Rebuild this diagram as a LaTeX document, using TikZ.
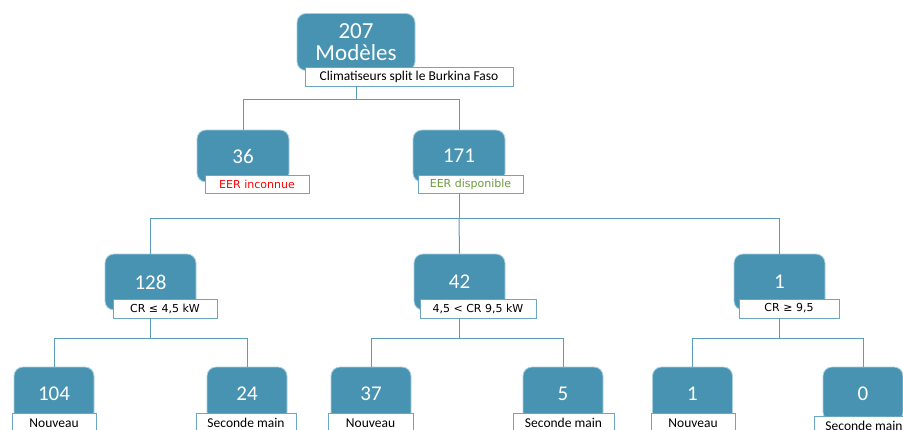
\documentclass[tikz,border=0pt]{standalone}
\usepackage{fontspec}
\setmainfont{Carlito}
\newfontfamily\dvs{DejaVu Sans}
\definecolor{boxfill}{HTML}{4893B2}
\definecolor{boxedge}{HTML}{A9D0E0}
\definecolor{lbledge}{HTML}{6AA8C2}
\definecolor{linecol}{HTML}{5B9CB8}
\definecolor{eerred}{HTML}{FF0000}
\definecolor{eergreen}{HTML}{6E9B3F}
\begin{document}
\begin{tikzpicture}[x=1pt,y=-1pt,
  box/.style={draw=boxedge, line width=0.8pt, fill=boxfill, rounded corners=9pt, text=white,
    font=\fontsize{21}{21}\selectfont, inner sep=0pt},
  lbl/.style={draw=lbledge, line width=0.8pt, fill=white, inner sep=0pt, minimum height=19pt,
    font=\fontsize{13.5}{14}\selectfont},
  dlbl/.style={lbl, font=\dvs\fontsize{11}{12}\selectfont},
  conn/.style={draw=linecol, line width=1pt}]
\useasboundingbox (0,0) rectangle (903,429);
\clip (0,0) rectangle (903,429);
% boxes
\node[box, minimum width=118pt, minimum height=57pt, align=center, font=\fontsize{23}{22.5}\selectfont] (top) at (356,42) {207\\Modèles};
\node[box, minimum width=92pt, minimum height=52pt] (b36) at (243,156) {36};
\node[box, minimum width=92pt, minimum height=52pt] (b171) at (459,156) {171};
\node[box, minimum width=91pt, minimum height=56pt] (b128) at (150.5,282) {128};
\node[box, minimum width=91pt, minimum height=56pt] (b42) at (459.5,282) {42};
\node[box, minimum width=91pt, minimum height=56pt] (b1) at (779.5,282) {1};
\node[box, minimum width=80pt, minimum height=54pt] (b104) at (54,394) {104};
\node[box, minimum width=80pt, minimum height=54pt] (b24) at (247,394) {24};
\node[box, minimum width=80pt, minimum height=54pt] (b37) at (371,394) {37};
\node[box, minimum width=80pt, minimum height=54pt] (b5) at (563,394) {5};
\node[box, minimum width=80pt, minimum height=54pt] (bn1) at (692.5,394) {1};
\node[box, minimum width=80pt, minimum height=54pt] (b0) at (863,394) {0};
% labels
\node[lbl, minimum width=208pt] (ltop) at (409,76.5) {Climatiseurs split le Burkina Faso};
\node[dlbl, minimum width=104pt, minimum height=18pt, text=eerred] (l36) at (257,184) {EER inconnue};
\node[dlbl, minimum width=105pt, minimum height=18pt, text=eergreen] (l171) at (470.5,184.5) {EER disponible};
\node[dlbl, minimum width=104pt] (l128) at (165,308.5) {CR ≤ 4,5 kW};
\node[dlbl, minimum width=116pt] (l42) at (478,308.5) {4,5 < CR 9,5 kW};
\node[dlbl, minimum width=100pt] (l1) at (789,308.5) {CR ≥ 9,5};
\node[lbl, minimum width=84pt, minimum height=20pt] (l104) at (54,423) {Nouveau};
\node[lbl, minimum width=100pt, minimum height=20pt] (l24) at (246,423) {Seconde main};
\node[lbl, minimum width=85pt, minimum height=20pt] (l37) at (370.5,423) {Nouveau};
\node[lbl, minimum width=101pt, minimum height=20pt] (l5) at (563.5,423) {Seconde main};
\node[lbl, minimum width=84pt, minimum height=20pt] (ln1) at (693,423) {Nouveau};
\node[lbl, minimum width=100pt, minimum height=20pt] (l0) at (864,426) {Seconde main};
% connectors
\draw[conn] (ltop.south -| top.center) -- ++(0,13) coordinate (j1);
\draw[conn] (b36.north) |- (j1) -| (b171.north);
\draw[conn] (l171.south -| b171.center) -- ++(0,25) coordinate (j2);
\draw[conn] (b128.north) |- (j2) -| (b1.north);
\draw[conn] (j2) -- (b42.north);
\draw[conn] (l128.south -| b128.center) -- ++(0,20) coordinate (j3);
\draw[conn] (b104.north) |- (j3) -| (b24.north);
\draw[conn] (l42.south -| b42.center) -- ++(0,20) coordinate (j4);
\draw[conn] (b37.north) |- (j4) -| (b5.north);
\draw[conn] (l1.south -| b1.center) -- ++(0,20) coordinate (j5);
\draw[conn] (bn1.north) |- (j5) -| (b0.north);
\end{tikzpicture}
\end{document}
